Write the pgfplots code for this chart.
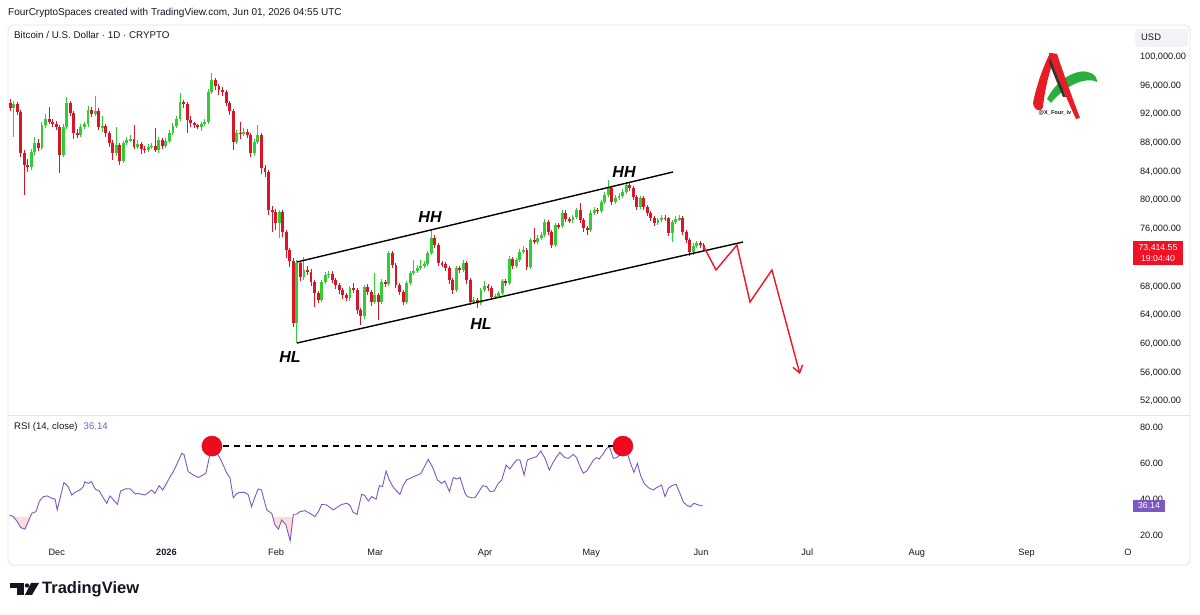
\documentclass[border=0pt]{standalone}
\usepackage{fontspec}
\setmainfont{Liberation Sans}
\usepackage{pgfplots}
\pgfplotsset{compat=1.18}
\usepackage{pgfplotstable}
\usetikzlibrary{arrows.meta}

\definecolor{tvtext}{HTML}{131722}
\definecolor{upg}{RGB}{50,205,50}
\definecolor{dnr}{RGB}{220,20,40}
\definecolor{rsic}{HTML}{7E57C2}
\definecolor{frame}{HTML}{E0E3EB}
\definecolor{boxred}{RGB}{242,16,34}
\definecolor{projred}{RGB}{235,20,40}
\definecolor{circred}{RGB}{240,10,30}
\definecolor{logored}{RGB}{232,28,36}
\definecolor{logogreen}{RGB}{40,175,60}

\pgfplotstableread{
d o h l c
-14 93580 94140 92400 92890
-13 92890 93900 88840 93440
-12 93440 93700 91900 92330
-11 92330 92600 86000 86610
-10 86610 87000 80750 84930
-9 84930 85800 84000 84650
-8 84650 87100 84200 86750
-7 86750 88800 86300 88000
-6 88000 88600 86900 87310
-5 87310 91000 87000 90510
-4 90510 92000 90100 91350
-3 91350 92980 90600 90930
-2 90930 91400 90300 90650
-1 90650 91100 89800 90230
0 90230 90500 83820 86330
1 86330 90700 86000 90230
2 90230 94400 90000 93580
3 93580 93900 91700 92190
4 92190 92500 88600 89400
5 89400 89900 88700 89120
6 89120 90600 88800 90230
7 90230 91000 90000 90650
8 90650 93200 90300 92610
9 92610 93000 91600 92050
10 92050 94510 91800 92470
11 92470 92900 89800 90230
12 90230 91800 89600 90370
13 90370 90700 88900 89400
14 89400 89700 87500 88000
15 88000 88400 85700 86610
16 86610 90230 86200 87720
17 87720 88000 84900 85490
18 85490 88300 85200 88000
19 88000 88900 87700 88420
20 88420 89100 88100 88560
21 88560 90510 87100 87450
22 87450 88400 87100 87860
23 87860 88200 86400 87170
24 87170 87600 86600 87030
25 87030 87900 86800 87450
26 87450 88000 87200 87580
27 87580 90100 86700 87030
28 87030 88900 86600 88420
29 88420 88700 87200 87580
30 87580 88700 87300 88280
31 88280 89800 88000 89400
32 89400 90800 89100 90370
33 90370 91700 90100 91350
34 91350 94980 91100 93720
35 93720 94000 92900 93440
36 93440 93700 89400 91210
37 91210 91700 90200 90790
38 90790 91000 90100 90510
39 90510 90600 89900 90230
40 90230 91000 89700 90650
41 90650 91300 90400 90930
42 90930 95500 90700 95120
43 95120 97770 94800 96790
44 96790 97100 95400 95960
45 95960 96300 94700 95400
46 95400 95800 94600 95120
47 95120 95400 93200 93580
48 93580 93900 91900 92470
49 92470 92800 87030 88140
50 88140 89800 87800 89400
51 89400 90930 88600 89260
52 89260 90100 89000 89540
53 89540 89900 88700 89120
54 89120 89400 86000 86610
55 86610 88600 86200 88140
56 88140 90510 87800 89120
57 89120 89400 83700 84520
58 84520 84900 83260 83960
59 83960 84200 78000 78660
60 78660 79200 75600 78380
61 78380 78800 75900 76840
62 76840 78700 74750 78380
63 78380 78700 74900 75590
64 75590 75900 72000 73080
65 73080 73400 70700 71540
66 71540 71900 62400 62890
67 62890 71700 60100 71260
68 71260 71500 68800 69310
69 69310 72100 68900 70290
70 70290 70800 69600 70010
71 70010 70400 68100 68610
72 68610 68900 65100 67080
73 67080 67400 65700 66100
74 66100 68900 65800 68610
75 68610 70000 68300 69590
76 69590 70200 69200 69730
77 69730 70100 68500 68890
78 68890 69200 67700 68190
79 68190 68500 67000 67500
80 67500 67800 66300 66800
81 66800 67100 65900 66380
82 66380 68100 66000 67780
83 67780 68470 67100 67500
84 67500 67800 64200 64710
85 64710 65000 62610 63870
86 63870 68200 63500 67920
87 67920 68300 66800 67220
88 67220 67500 65300 65820
89 65820 69870 65500 66800
90 66800 67100 63300 65820
91 65820 69000 65500 68610
92 68610 68900 67900 68330
93 68330 73000 68000 72660
94 72660 73000 70600 70990
95 70990 71300 67800 68190
96 68190 68500 66800 67220
97 67220 67500 65400 65820
98 65820 68800 65500 68470
99 68470 70200 68200 69870
100 69870 71680 69600 70150
101 70150 71000 69900 70570
102 70570 71700 70300 70840
103 70840 71600 70600 71120
104 71120 73000 70800 72660
105 72660 75870 72400 74750
106 74750 75200 73400 73780
107 73780 74100 70900 71260
108 71260 71600 70700 71120
109 71120 71400 70200 70570
110 70570 70900 68400 68890
111 68890 69200 67000 67500
112 67500 70900 67200 70570
113 70570 70800 69900 70290
114 70290 71700 70000 71260
115 71260 71500 68400 68890
116 68890 69200 65400 65820
117 65820 66500 65500 66100
118 66100 66400 64990 65680
119 65680 67800 65400 67500
120 67500 68700 67200 68060
121 68060 68300 67400 67780
122 67780 68000 66100 66520
123 66520 67000 66300 66660
124 66660 67400 66400 67080
125 67080 69100 66800 68750
126 68750 69000 68100 68470
127 68470 72200 68200 71820
128 71820 72100 70400 70840
129 70840 72000 70500 71680
130 71680 73200 71400 72800
131 72800 73600 72500 73080
132 73080 73400 70300 70710
133 70710 74800 70400 74480
134 74480 76150 73900 74200
135 74200 75200 73900 74750
136 74750 75600 74500 75170
137 75170 77400 74900 76980
138 76980 77300 75200 75590
139 75590 75900 73400 73780
140 73780 76900 73500 76560
141 76560 76900 76000 76420
142 76420 78700 76100 78240
143 78240 78600 77000 77400
144 77400 77700 76900 77260
145 77260 78000 76900 77680
146 77680 79000 77400 78660
147 78660 79590 76900 77260
148 77260 77600 75600 76140
149 76140 76400 75200 75870
150 75870 78600 75600 78240
151 78240 79100 77900 78660
152 78660 79000 78100 78520
153 78520 80100 78200 79770
154 79770 81100 79500 80750
155 80750 82840 80400 81730
156 81730 82000 79400 79770
157 79770 80700 79500 80330
158 80330 81000 80000 80610
159 80610 81600 80300 81170
160 81170 82560 80900 82140
161 82140 82400 81300 81730
162 81730 82000 80000 80470
163 80470 80700 78600 79080
164 79080 80600 78800 80330
165 80330 80600 78700 79080
166 79080 79400 77800 78240
167 78240 78500 77100 77540
168 77540 77800 76400 76840
169 76840 77600 76500 77260
170 77260 77900 77000 77540
171 77540 77900 77100 77480
172 77480 77700 75000 75450
173 75450 77300 74200 76980
174 76980 77800 76700 77400
175 77400 78000 77100 77540
176 77540 77800 75200 75590
177 75590 75800 74000 74480
178 74480 74700 72300 72800
179 72800 74000 72400 73640
180 73640 74400 73400 74060
181 74060 74300 73300 73780
182 73780 74100 73000 73414.55
}\candles

\pgfplotstableread{
d r
-14.2 31.1
-13.1 30.2
-12.1 27.8
-11.0 24.1
-9.8 23.3
-8.9 27.4
-7.9 32.0
-6.7 33.0
-5.7 38.9
-4.6 41.3
-3.5 41.7
-2.3 40.4
-1.3 40.0
-0.7 33.9
0.1 40.4
1.2 49.1
2.4 46.9
3.4 42.2
4.3 43.7
5.7 45.0
6.7 46.9
7.1 49.6
8.1 48.7
9.0 49.6
10.0 45.6
11.2 44.4
12.3 40.7
13.3 37.6
14.2 41.7
15.2 39.5
16.3 37.0
17.2 44.4
18.5 45.6
19.9 45.6
21.3 42.8
22.2 43.1
23.2 42.6
24.1 42.2
25.0 43.5
26.0 45.0
26.9 43.1
28.1 47.4
29.1 45.0
30.2 48.7
31.2 52.4
32.1 55.2
33.0 58.9
34.5 65.4
35.1 64.8
36.3 55.2
37.8 53.3
39.2 51.9
40.4 53.3
41.3 54.3
42.0 60.7
42.9 69.1
44.2 66.3
45.3 62.6
46.4 58.0
47.2 54.3
48.1 51.9
49.05 40.7
50.0 43.0
50.9 43.7
52.3 43.7
53.3 42.2
54.2 35.7
55.2 41.3
56.1 45.6
57.0 45.0
58.5 33.9
59.9 32.0
60.8 25.6
61.8 23.3
62.7 28.3
63.9 25.6
65.1 16.7
66.0 31.5
66.9 31.5
67.9 33.0
69.3 33.5
70.7 32.0
72.1 30.2
73.1 33.0
74.0 37.0
75.4 36.7
76.4 35.2
77.3 33.9
78.2 35.2
79.7 37.0
81.1 37.6
82.0 36.5
82.9 32.6
84.0 31.5
85.3 42.6
86.2 41.9
87.2 38.9
88.1 41.3
89.4 40.0
90.3 47.4
91.2 46.9
92.2 55.6
93.1 50.6
94.1 46.9
95.2 44.4
96.1 42.6
97.1 47.8
98.0 50.6
99.0 51.5
100.4 52.8
102.0 54.1
102.9 57.4
104.1 62.0
105.4 57.4
106.7 50.6
107.9 48.7
108.8 50.0
110.1 44.1
111.2 51.9
112.1 51.1
113.1 51.9
114.5 43.2
115.2 41.3
116.4 40.7
117.3 40.7
118.3 43.7
119.5 47.4
120.6 46.9
121.6 44.1
122.7 44.4
123.9 48.7
124.9 50.6
126.1 58.9
127.2 56.7
128.1 59.3
129.1 61.7
130.0 61.7
131.2 53.3
132.1 61.7
133.3 62.6
134.7 63.5
135.9 66.7
137.1 62.6
138.3 56.1
139.4 60.4
140.4 63.5
141.3 65.9
142.7 63.0
143.7 62.6
145.1 64.8
146.0 63.0
147.0 58.0
147.9 54.3
148.9 55.6
149.8 58.5
150.8 61.7
151.7 63.0
152.4 62.2
153.4 64.8
154.5 68.1
155.3 69.1
156.4 62.6
157.3 63.0
158.5 64.8
159.4 68.1
160.4 65.4
161.1 60.7
162.2 54.8
163.2 59.8
164.1 53.0
165.1 48.7
166.3 46.3
167.7 45.0
168.6 46.3
170.0 47.8
171.0 41.3
171.9 45.9
172.9 47.4
174.1 48.2
175.0 44.1
176.2 38.2
177.3 36.3
178.2 35.7
179.2 37.6
180.4 36.7
181.6 36.14
}\rsidata

\pgfplotsset{
  tvaxis/.style={
    scale only axis, width=1125pt,
    xmin=-14.6, xmax=303.2,
    axis line style={draw=none},
    major tick length=0pt,
    yticklabel pos=right,
    scaled y ticks=false,
    tick label style={font=\fontsize{9.2}{10}\selectfont, text=tvtext},
    yticklabel style={anchor=west, xshift=3.5pt,
      /pgf/number format/fixed, /pgf/number format/fixed zerofill,
      /pgf/number format/precision=2, /pgf/number format/1000 sep={,},
      /pgf/number format/assume math mode=true},
  },
  candle/.style 2 args={draw=none, no marks, forget plot, error bars/.cd, y dir=both, y explicit, error mark=none,
    error bar style={draw=#1, line width=#2, line cap=butt}},
}

\begin{document}
\begin{tikzpicture}
\begin{scope}[x=1pt,y=1pt]
\useasboundingbox (0,0) rectangle (1200,615);
\fill[white] (0,0) rectangle (1200,615);
\draw[frame, line width=0.8pt, rounded corners=5pt] (8,50) rectangle (1190,590);
\draw[frame, line width=0.8pt] (8,200) -- (1190,200);
\fill[frame!45, rounded corners=3pt] (1135,568) rectangle (1188,586);
\node[anchor=west, inner sep=0, text=tvtext, font=\fontsize{10}{12}\selectfont] at (8,602) {FourCryptoSpaces created with TradingView.com, Jun 01, 2026 04:55 UTC};
\node[anchor=west, inner sep=0, text=tvtext, font=\fontsize{9.8}{11}\selectfont] at (14,580) {Bitcoin / U.S. Dollar · 1D · CRYPTO};
\node[anchor=west, inner sep=0, text=tvtext, font=\fontsize{9.4}{11}\selectfont] at (1141,578) {USD};
\node[anchor=west, inner sep=0, text=tvtext, font=\fontsize{9.6}{11}\selectfont] at (14,188) {RSI (14, close)\hspace{6pt}\textcolor{rsic}{36.14}};
\end{scope}

% price pane
\begin{axis}[tvaxis, at={(8pt,200pt)}, anchor=south west, height=390pt,
  ymin=50059, ymax=104464, xtick=\empty,
  ytick={52000,56000,60000,64000,68000,76000,80000,84000,88000,92000,96000,100000}]
\addplot[candle={upg}{1pt}]
  table[x=d, y expr={\thisrow{c}>=\thisrow{o} ? (\thisrow{h}+\thisrow{l})/2 : nan},
        y error expr={(\thisrow{h}-\thisrow{l})/2}] {\candles};
\addplot[candle={dnr}{1pt}]
  table[x=d, y expr={\thisrow{c}<\thisrow{o} ? (\thisrow{h}+\thisrow{l})/2 : nan},
        y error expr={(\thisrow{h}-\thisrow{l})/2}] {\candles};
\addplot[candle={upg}{2.9pt}]
  table[x=d, y expr={\thisrow{c}>=\thisrow{o} ? (\thisrow{o}+\thisrow{c})/2 : nan},
        y error expr={max(abs(\thisrow{o}-\thisrow{c})/2,45)}] {\candles};
\addplot[candle={dnr}{2.9pt}]
  table[x=d, y expr={\thisrow{c}<\thisrow{o} ? (\thisrow{o}+\thisrow{c})/2 : nan},
        y error expr={max(abs(\thisrow{o}-\thisrow{c})/2,45)}] {\candles};
\addplot[black, line width=1.4pt, no marks] coordinates {(67.04,71400) (173.25,83960)};
\addplot[black, line width=1.4pt, no marks] coordinates {(67.04,60100) (193.03,74190)};
\addplot[projred, line width=1.4pt, no marks, line join=miter, -{Straight Barb[length=7pt, width=10pt, line width=1.4pt]}]
  coordinates {(181.7,73770) (185.4,70290) (191.3,73770) (195.0,65820) (201.2,70290) (209.1,55780)};
\end{axis}

% RSI pane
\begin{axis}[tvaxis, at={(8pt,70pt)}, anchor=south west, height=130pt,
  ymin=14.44, ymax=86.67, ytick={20,40,60,80},
  xtick={0,31,62,90,121,151,182,212,243,274},
  xticklabels={Dec,\textbf{2026},Feb,Mar,Apr,May,Jun,Jul,Aug,Sep},
  xticklabel style={anchor=base, xshift=-3pt, yshift=-10.5pt}]
\addplot[fill=red!14, draw=none] coordinates {(-13.02,30) (-12.1,27.8) (-11.0,24.1) (-9.8,23.3) (-8.9,27.4) (-8.33,30)};
\addplot[fill=red!14, draw=none] coordinates {(60.18,30) (60.8,25.6) (61.8,23.3) (62.7,28.3) (63.9,25.6) (65.1,16.7) (65.91,30)};
\addplot[rsic, line width=0.9pt, no marks] table[x=d, y=r] {\rsidata};
\addplot[black, line width=1.2pt, no marks, dash pattern=on 6pt off 5pt] coordinates {(43.0,69.4) (159.1,69.4)};
\addplot[only marks, mark=*, mark size=10pt, mark options={fill=circred, draw=circred!85!black, line width=0.5pt}] coordinates {(43.0,69.4) (159.1,69.4)};
\end{axis}

\begin{scope}[x=1pt,y=1pt]
\node[anchor=base, text=tvtext, font=\fontsize{9.2}{10}\selectfont] at (1128,59.5) {O};
\begin{scope}[font=\fontsize{16}{18}\selectfont\bfseries\itshape]
\node at (290,258) {HL};
\node at (430,398) {HH};
\node at (481,291) {HL};
\node at (624,443) {HH};
\end{scope}
\fill[boxred] (1133,350) rectangle (1183,374);
\node[text=white, font=\fontsize{8.7}{9}\selectfont] at (1158,367) {73,414.55};
\node[text=white, font=\fontsize{8.7}{9}\selectfont] at (1158,356) {19:04:40};
\fill[rsic] (1133,103) rectangle (1165,115);
\node[text=white, font=\fontsize{8.7}{9}\selectfont] at (1149,109) {36.14};
% logo
\fill[logogreen] (1047,516) .. controls (1057,536) and (1078,548) .. (1091,542)
   .. controls (1095,540) and (1097,537) .. (1097,533)
   .. controls (1090,537) and (1077,534) .. (1066,526)
   .. controls (1059,521) and (1054,516) .. (1051,512) -- cycle;
\fill[logored] (1033,512) .. controls (1037,532) and (1044,550) .. (1050,562) -- (1056,561)
   .. controls (1050,546) and (1045,528) .. (1043,508) .. controls (1041,502) and (1034,504) .. (1033,512) -- cycle;
\fill[logored] (1049,562) -- (1057,561) .. controls (1064,540) and (1072,518) .. (1080,497)
   -- (1076,496) .. controls (1067,515) and (1058,538) .. (1050,557) -- cycle;
\fill[black!80] (1050,557) .. controls (1056,543) and (1061,530) .. (1066,518) -- (1063,518)
   .. controls (1058,530) and (1053,542) .. (1049,553) -- cycle;
\node[font=\fontsize{5.6}{6}\selectfont\bfseries, text=tvtext] at (1055,502) {@X\_Four\_iv};
% TradingView logo
\fill[tvtext] (10,32) rectangle (23.8,27);
\fill[tvtext] (17,32) rectangle (23.8,20);
\fill[tvtext] (27,29.5) circle (2.2);
\fill[tvtext] (31,32) -- (39,32) -- (32,20) -- (25,20) -- cycle;
\node[anchor=west, inner sep=0, text=tvtext, font=\fontsize{16.5}{18}\selectfont\bfseries] at (42,26) {TradingView};
\end{scope}
\end{tikzpicture}
\end{document}
